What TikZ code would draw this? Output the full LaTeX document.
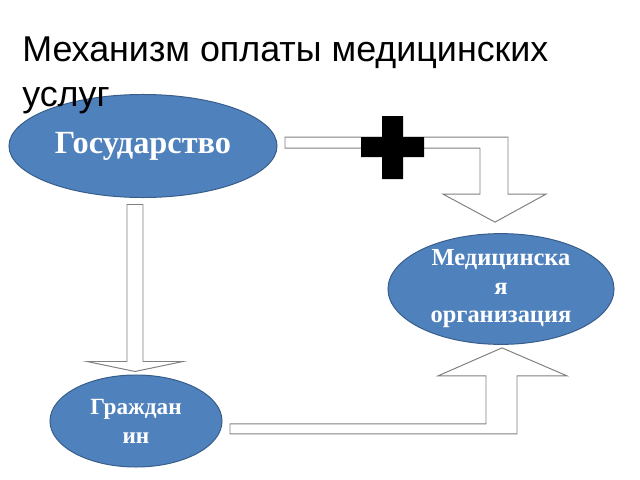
\documentclass[tikz,border=0pt]{standalone}
\usepackage{fontspec}
\setmainfont{Liberation Serif}
\newfontfamily\titlefont{Liberation Sans}
\usetikzlibrary{shapes.geometric,calc}
\definecolor{ovalblue}{HTML}{4F81BD}
\definecolor{ovaledge}{HTML}{385D8A}

\begin{document}
\begin{tikzpicture}[x=0.025cm,y=0.025cm]
\tikzstyle{oval}=[ellipse, draw=ovaledge, fill=ovalblue, line width=0.7pt, text=white, align=center, inner sep=0pt]
\tikzstyle{blockarrow}=[draw=gray, fill=white, line width=0.7pt]
\useasboundingbox (0,0) rectangle (640,-480);
% ovals
\node (gos) [oval, minimum width=6.7cm, minimum height=2.575cm, font=\bfseries\fontsize{23}{27}\selectfont] at (143,-146) {Государство};
\node (grazh) [oval, minimum width=4.3cm, minimum height=2.3cm, font=\bfseries\fontsize{16.5}{20.6}\selectfont] at (136,-421) {Граждан\\ин};
\node (med) [oval, minimum width=5.65cm, minimum height=2.65cm, font=\bfseries\fontsize{17.4}{20.3}\selectfont] at (501,-289) {Медицинска\\я\\организация};
% title, over the top oval
\node (title) [anchor=base west, align=left, inner sep=0pt, font=\titlefont\fontsize{25.5}{31.3}\selectfont] at (22,-106) {Механизм оплаты медицинских\\услуг};
% gos -> grazh
\draw [blockarrow] ($(grazh.north)+(-1,3)$) -- ++(48,10) -- ++(-40,0) -- ++(0,157) -- ++(-16,0) -- ++(0,-157) -- ++(-40,0) -- cycle;
% gos -> med
\draw [blockarrow] ($(med.north)+(-6,11)$) -- ++(51,28) -- ++(-38,0) -- ++(0,57) -- ++(-223,0) -- ++(0,-11) -- ++(195,0) -- ++(0,-46) -- ++(-37,0) -- cycle;
% grazh -> med
\draw [blockarrow] ($(med.south)+(1,-3)$) -- ++(65,-28) -- ++(-50,0) -- ++(0,-58) -- ++(-287,0) -- ++(0,10) -- ++(256,0) -- ++(0,48) -- ++(-48,0) -- cycle;
% plus
\fill [black] (382,-116) -- (403,-116) -- (403,-137) -- (424,-137) -- (424,-157) -- (403,-157) -- (403,-179) -- (382,-179) -- (382,-157) -- (361,-157) -- (361,-137) -- (382,-137) -- cycle;
\end{tikzpicture}
\end{document}
